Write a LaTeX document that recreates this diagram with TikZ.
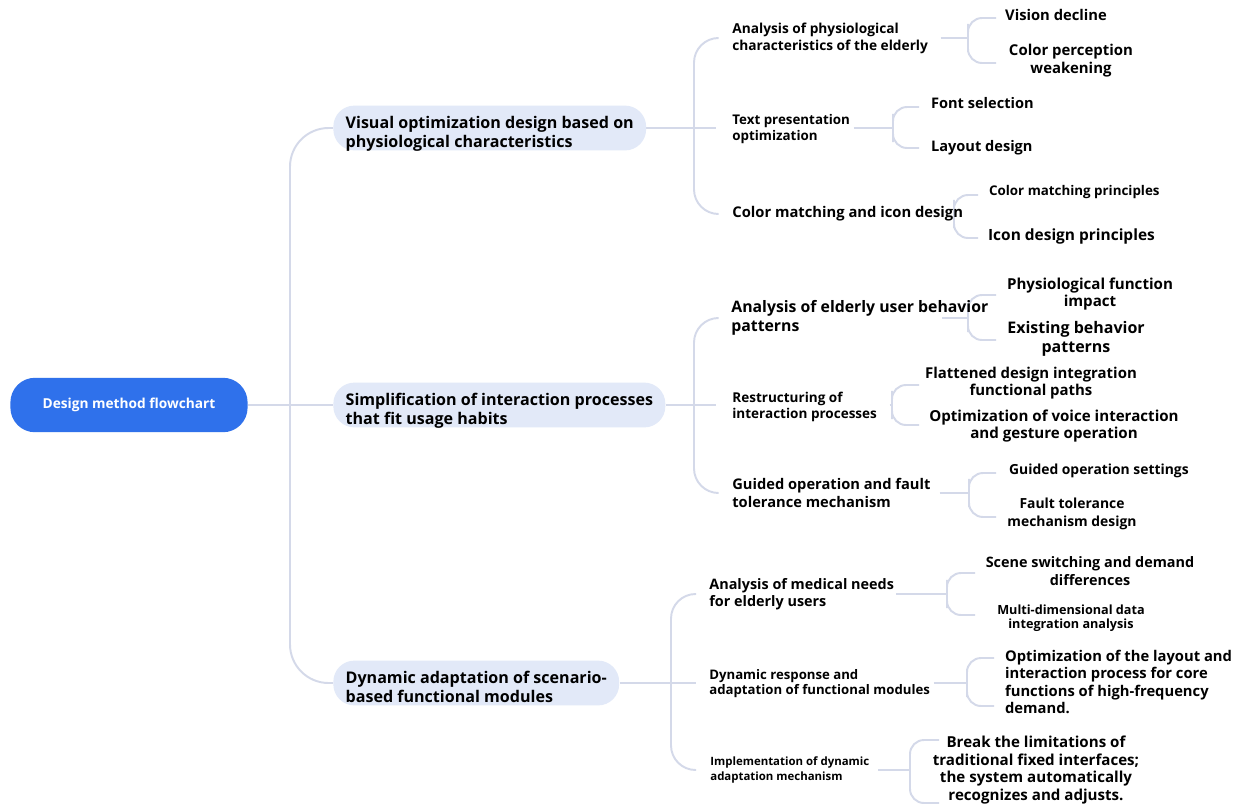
\documentclass[tikz,border=0pt]{standalone}
\usepackage{fontspec}
\setmainfont{Open Sans}
\usepackage{xcolor}
\usetikzlibrary{calc,backgrounds}

\definecolor{rootblue}{RGB}{47,113,235}
\definecolor{pillblue}{RGB}{226,233,248}
\definecolor{linkgray}{RGB}{212,217,233}

% text of a pill sits a little low, as in the drawing
\newcommand{\pilltext}[1]{\raisebox{-3.6pt}[\height][\depth]{\begin{tabular}{@{}l@{}}#1\end{tabular}}}

\begin{document}
\begin{tikzpicture}[
    x=0.02cm, y=-0.02cm,
    root/.style={fill=rootblue, text=white, rounded corners=14pt, minimum width=135pt,
                 minimum height=31pt, font=\bfseries\fontsize{7.8}{9}\selectfont},
    pill/.style={fill=pillblue, rounded corners=12pt, minimum height=25.5pt, inner xsep=7pt,
                 inner ysep=1pt, anchor=west, font=\bfseries\fontsize{9.15}{10.8}\selectfont},
    sub/.style 2 args={anchor=west, align=left, inner xsep=0pt, inner ysep=1pt,
                 font=\bfseries\fontsize{#1}{#2}\selectfont},
    leaf/.style 2 args={align=center, inner sep=1pt, font=\bfseries\fontsize{#1}{#2}\selectfont},
    link/.style={draw=linkgray, line width=1.1pt},
]
\useasboundingbox (0,0) rectangle (1244,809);

% --- Root and first level ---
\node[root] (root) at (129,405) {Design method flowchart};
\node[pill] (l1a) at (333,128) {\pilltext{Visual optimization design based on\\physiological characteristics}};
\node[pill] (l1b) at (333,405) {\pilltext{Simplification of interaction processes\\that fit usage habits}};
\node[pill] (l1c) at (333,683) {\pilltext{Dynamic adaptation of scenario-\\based functional modules}};

% --- Second level ---
\node[sub={7.8}{9.6}] (a1) at (732,38) {Analysis of physiological\\characteristics of the elderly};
\node[sub={7.6}{9}] (a2) at (732,129) {Text presentation\\optimization};
\node[sub={8.4}{9.6}] (a3) at (732,214) {Color matching and icon design};
\node[sub={9}{11}] (b1) at (731,318) {Analysis of elderly user behavior\\patterns};
\node[sub={7.7}{9}] (b2) at (732,407) {Restructuring of\\interaction processes};
\node[sub={8.35}{9.8}] (b3) at (732,493) {Guided operation and fault\\tolerance mechanism};
\node[sub={8.2}{10}] (c1) at (709,594) {Analysis of medical needs\\for elderly users};
\node[sub={7.5}{8.6}] (c2) at (709,684) {Dynamic response and\\adaptation of functional modules};
\node[sub={6.5}{8}] (c3) at (710,770) {Implementation of dynamic\\adaptation mechanism};

% --- Third level ---
\node[leaf={8.4}{9.6}] (v1) at (1056,15) {Vision decline};
\node[leaf={8.5}{10.3}] (v2) at (1071,61) {Color perception\\weakening};
\node[leaf={8.3}{10}, anchor=west] (f1) at (929,103) {Font selection};
\node[leaf={8.3}{10}, anchor=west] (f2) at (929,148) {Layout design};
\node[leaf={7.6}{9.6}, anchor=west] (m1) at (987,192) {Color matching principles};
\node[leaf={8.8}{11}, anchor=west] (m2) at (986,236) {Icon design principles};
\node[leaf={8.6}{10}] (p1) at (1090,294) {Physiological function\\impact};
\node[leaf={9.1}{11}] (p2) at (1076,339) {Existing behavior\\patterns};
\node[leaf={8.5}{10}] (r1) at (1031,383) {Flattened design integration\\functional paths};
\node[leaf={8.6}{10}] (r2) at (1054,426) {Optimization of voice interaction\\and gesture operation};
\node[leaf={7.9}{9.6}, anchor=west] (g1) at (1007,471) {Guided operation settings};
\node[leaf={7.9}{10}] (g2) at (1072,514) {Fault tolerance\\mechanism design};
\node[leaf={8.2}{10}] (s1) at (1090,571) {Scene switching and demand\\differences};
\node[leaf={7.2}{8}] (s2) at (1071,618) {Multi-dimensional data\\integration analysis};
\node[leaf={8.4}{10}, anchor=west, align=left] (o1) at (1003,682)
    {Optimization of the layout and\\interaction process for core\\functions of high-frequency\\demand.};
\node[leaf={8.6}{10}] (k1) at (1036,770)
    {Break the limitations of\\traditional fixed interfaces;\\the system automatically\\recognizes and adjusts.};

% --- Bracket spines ---
\coordinate (t1) at (290,405);
\coordinate (ta) at (694,128);
\coordinate (tb) at (694,405);
\coordinate (tc) at (671,683);
\coordinate (ka1) at (968,38);
\coordinate (ka2) at (893,128);
\coordinate (ka3) at (954,214);
\coordinate (kb1) at (968,318);
\coordinate (kb2) at (892,405);
\coordinate (kb3) at (969,493);
\coordinate (kc1) at (947,594);
\coordinate (kc2) at (967,683);
\coordinate (kc3) at (910,770);

% --- Links ---
\begin{pgfonlayer}{background}
\fill[white] (0,0) rectangle (1244,809);
\draw[link] (root.east) -- (l1b.west);
\draw[link, rounded corners=22pt] (l1a.west) -| (t1) |- (l1c.west);

\draw[link] (l1a.east) -- ($(l1a.east-|a2.west)+(-16,0)$);
\draw[link, rounded corners=14pt] ($(a1.west)+(-16,0)$) -| (ta) |- ($(a3.west)+(-16,0)$);
\draw[link] (l1b.east) -- ($(l1b.east-|b2.west)+(-16,0)$);
\draw[link, rounded corners=14pt] ($(b1.west)+(-15,0)$) -| (tb) |- ($(b3.west)+(-16,0)$);
\draw[link] (l1c.east) -- ($(l1c.east-|c2.west)+(-13,0)$);
\draw[link, rounded corners=14pt] ($(c1.west)+(-13,0)$) -| (tc) |- ($(c3.west)+(-14,0)$);

\draw[link] ([xshift=7pt]a1.east) -- (ka1);
\draw[link, rounded corners=8pt] ($(ka1|-v1)+(28,3)$) -| (ka1) |- ($(ka1|-v2)+(28,2)$);
\draw[link] ([xshift=2pt]a2.east|-ka2) -- (ka2);
\draw[link, rounded corners=8pt] ($(ka2|-f1)+(26,4)$) -| (ka2) |- ($(ka2|-f2)+(26,0)$);
\draw[link, rounded corners=8pt] ($(ka3|-m1)+(24,3)$) -| (ka3) |- ($(ka3|-m2)+(24,2)$);
\draw[link] ($(kb1)+(-26,0)$) -- (kb1);
\draw[link, rounded corners=8pt] ($(kb1|-p1)+(28,1)$) -| (kb1) |- ($(kb1|-p2)+(28,1)$);
\draw[link] ([xshift=7pt]b2.east|-kb2) -- (kb2);
\draw[link, rounded corners=8pt] ($(kb2|-r1)+(27,2)$) -| (kb2) |- ($(kb2|-r2)+(27,-1)$);
\draw[link] ([xshift=5pt]b3.east) -- (kb3);
\draw[link, rounded corners=8pt] ($(kb3|-g1)+(27,2)$) -| (kb3) |- ($(kb3|-g2)+(27,3)$);
\draw[link] ([xshift=1pt]c1.east) -- (kc1);
\draw[link, rounded corners=8pt] ($(kc1|-s1)+(28,2)$) -| (kc1) |- ($(kc1|-s2)+(28,-3)$);
\draw[link] ([xshift=2pt]c2.east|-kc2) -- (kc2);
\draw[link, rounded corners=8pt] ($(kc2|-o1)+(27,-24)$) -| (kc2) |- ($(kc2|-o1)+(27,24)$);
\draw[link] ([xshift=5pt]c3.east) -- (kc3);
\draw[link, rounded corners=8pt] ($(kc3|-k1)+(29,-30)$) -| (kc3) |- ($(kc3|-k1)+(29,33)$);
\end{pgfonlayer}

\end{tikzpicture}
\end{document}
